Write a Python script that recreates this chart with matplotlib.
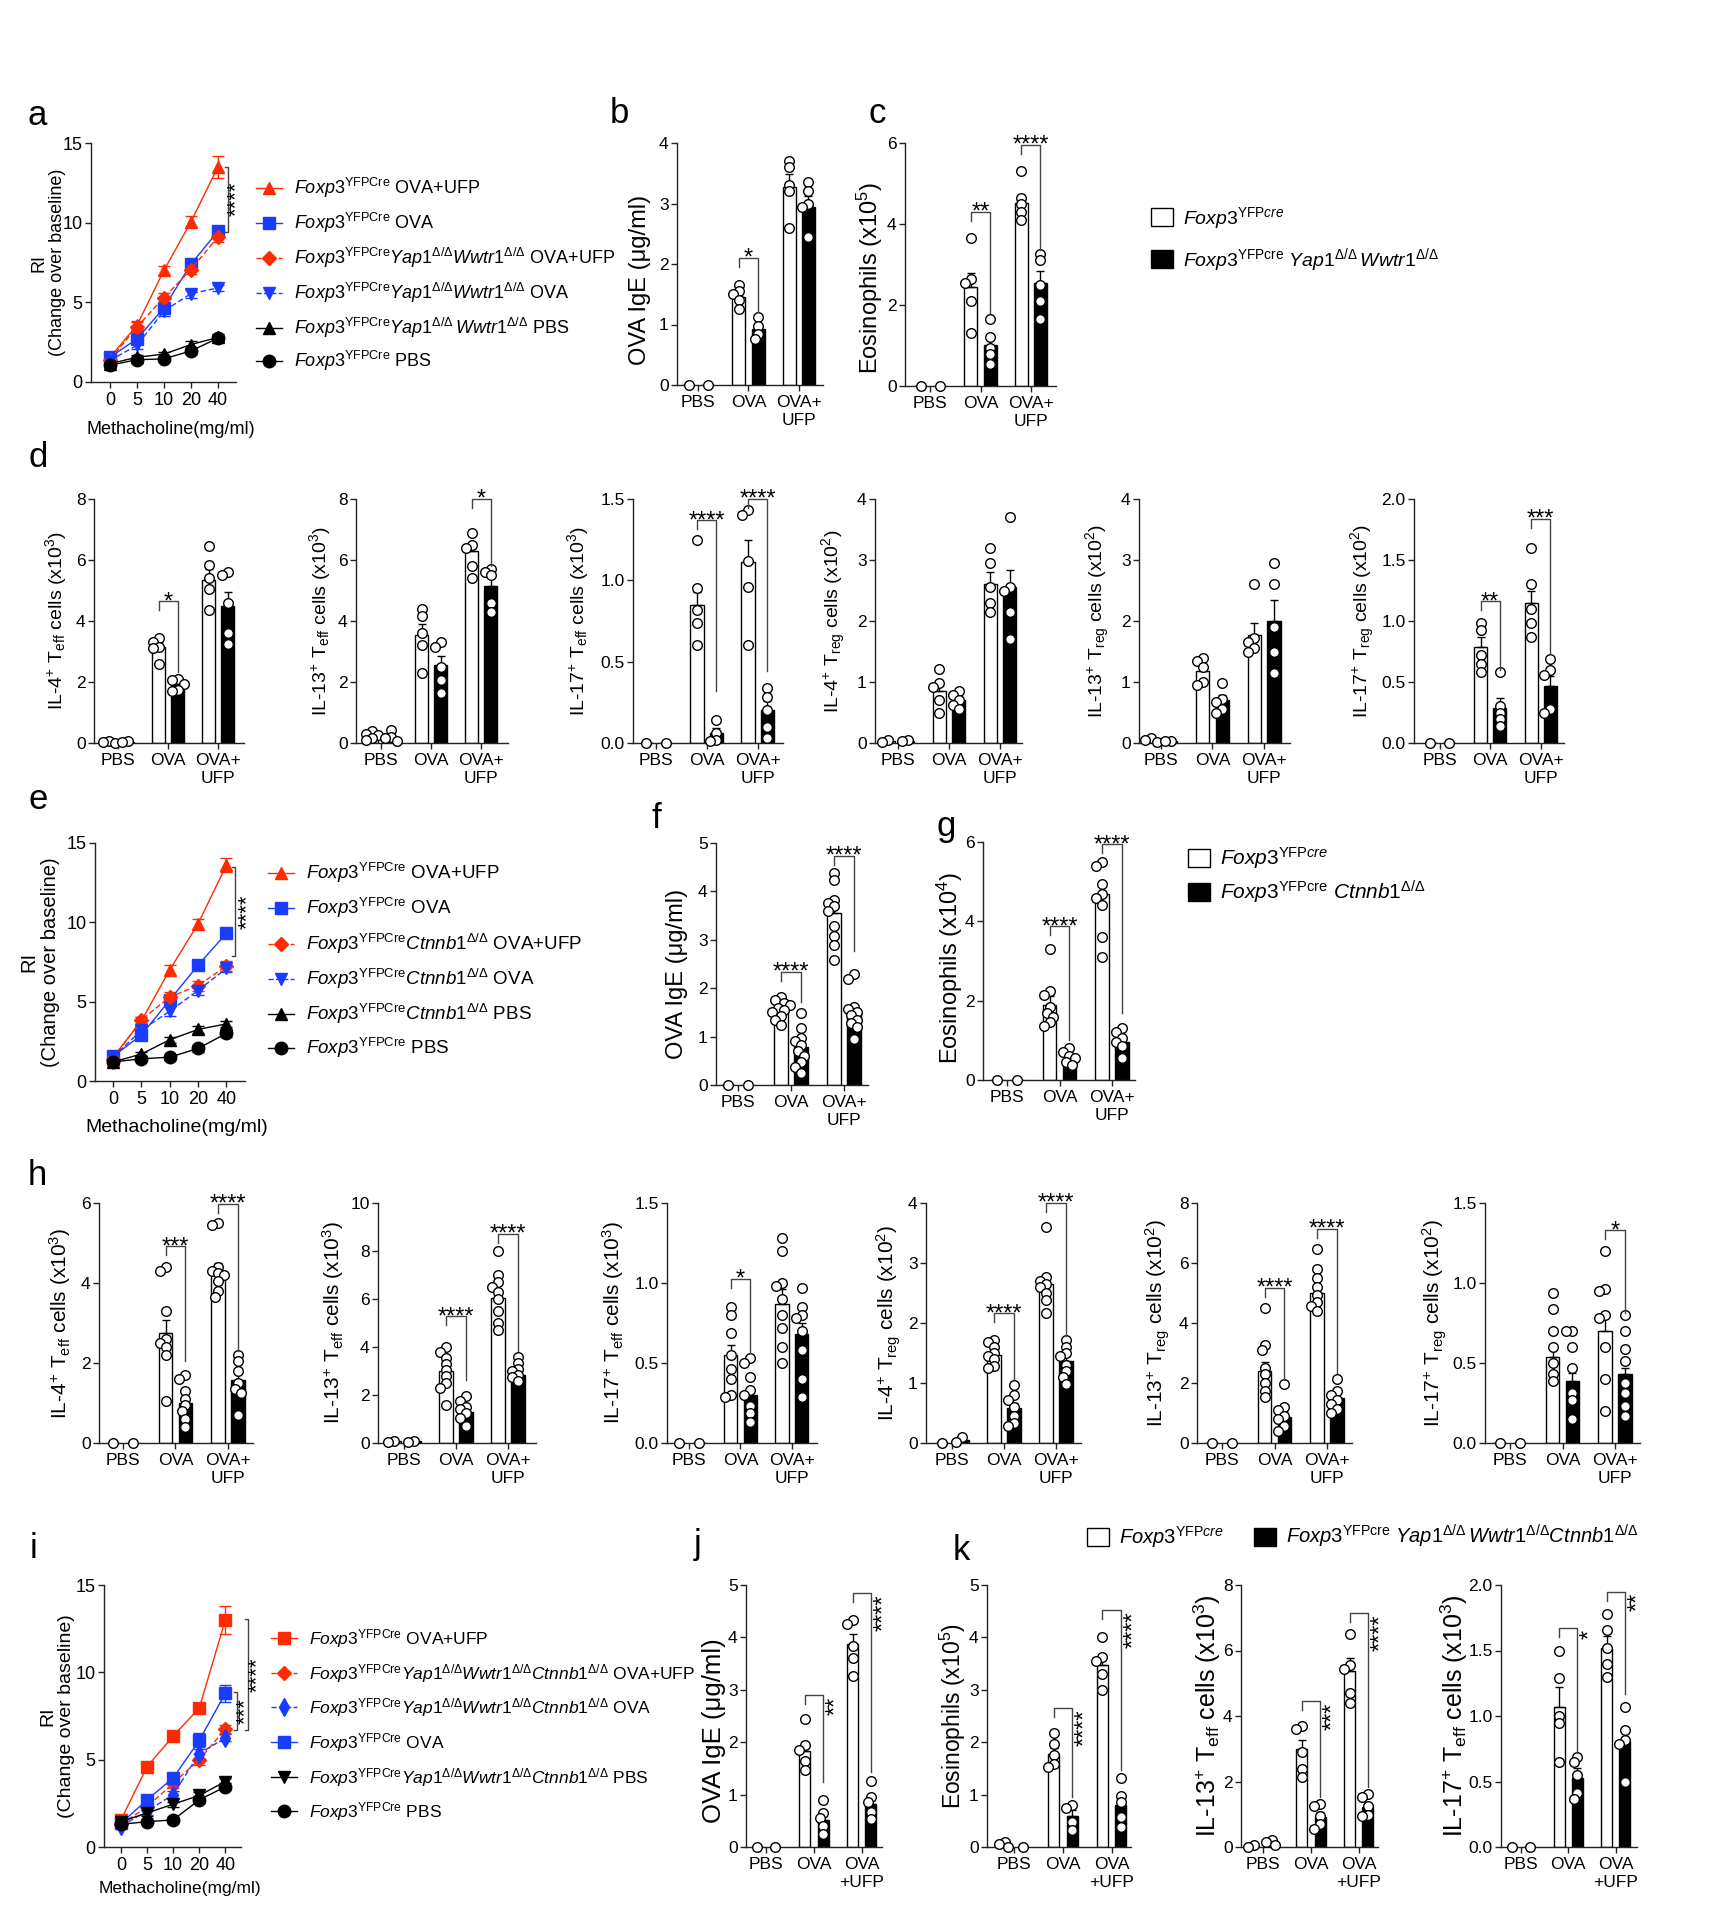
import numpy as np
import matplotlib
matplotlib.use('Agg')
import matplotlib.pyplot as plt
from matplotlib.lines import Line2D
from matplotlib.patches import Rectangle

# ---------------- data ----------------
doses = ['0', '5', '10', '20', '40']
groups = ['PBS', 'OVA', 'OVA+\nUFP']
groups_k = ['PBS', 'OVA', 'OVA\n+UFP']

# a : airway resistance, Yap1/Wwtr1 deletion
a_wt_ovaufp = [1.55, 3.55, 7.0, 10.05, 13.5]
a_wt_ovaufp_err = [0.2, 0.3, 0.3, 0.35, 0.7]
a_wt_ova = [1.55, 2.7, 4.65, 7.4, 9.45]
a_wt_ova_err = [0.2, 0.3, 0.3, 0.3, 0.3]
a_ko_ovaufp = [1.4, 3.45, 5.3, 7.05, 9.1]
a_ko_ovaufp_err = [0.15, 0.3, 0.3, 0.3, 0.3]
a_ko_ova = [1.35, 2.3, 4.45, 5.55, 5.9]
a_ko_ova_err = [0.15, 0.25, 0.3, 0.25, 0.2]
a_ko_pbs = [1.15, 1.55, 1.75, 2.35, 2.8]
a_ko_pbs_err = [0.1, 0.15, 0.15, 0.2, 0.2]
a_wt_pbs = [1.05, 1.4, 1.45, 1.95, 2.75]
a_wt_pbs_err = [0.1, 0.15, 0.15, 0.2, 0.2]

# b : OVA IgE
b_wt_mean = [0.0, 1.45, 3.28]
b_wt_sem = [0.0, 0.08, 0.2]
b_wt_pts = [[0.0], [1.65, 1.55, 1.5, 1.4, 1.25], [3.7, 3.6, 3.3, 3.2, 2.6]]
b_ko_mean = [0.0, 0.92, 2.95]
b_ko_sem = [0.0, 0.08, 0.17]
b_ko_pts = [[0.0], [1.12, 0.98, 0.85, 0.76], [3.35, 3.2, 3.0, 2.95, 2.45]]

# c : eosinophils
c_wt_mean = [0.0, 2.45, 4.52]
c_wt_sem = [0.0, 0.35, 0.2]
c_wt_pts = [[0.0], [3.65, 2.65, 2.55, 2.1, 1.3], [5.3, 4.65, 4.5, 4.3, 4.1]]
c_ko_mean = [0.0, 1.02, 2.55]
c_ko_sem = [0.0, 0.2, 0.3]
c_ko_pts = [[0.0], [1.65, 1.2, 0.95, 0.8, 0.55], [3.25, 3.1, 2.5, 2.1, 1.65]]

# d : cytokine+ T cells
d1_wt_mean = [0.03, 3.15, 5.35]
d1_wt_sem = [0.02, 0.15, 0.35]
d1_wt_pts = [[0.07, 0.03, 0.0], [3.45, 3.3, 3.15, 3.1, 2.6], [6.45, 5.85, 5.4, 5.05, 4.35]]
d1_ko_mean = [0.03, 1.9, 4.5]
d1_ko_sem = [0.02, 0.1, 0.45]
d1_ko_pts = [[0.05, 0.02], [2.1, 2.05, 1.95, 1.75, 1.7], [5.6, 5.5, 4.6, 3.6, 3.25]]

d2_wt_mean = [0.25, 3.55, 6.3]
d2_wt_sem = [0.06, 0.35, 0.25]
d2_wt_pts = [[0.4, 0.3, 0.25, 0.15, 0.1], [4.4, 4.15, 3.6, 3.2, 2.3], [6.9, 6.5, 6.4, 5.8, 5.4]]
d2_ko_mean = [0.2, 2.55, 5.15]
d2_ko_sem = [0.08, 0.3, 0.3]
d2_ko_pts = [[0.42, 0.2, 0.15, 0.05], [3.3, 3.15, 2.5, 2.05, 1.65], [5.7, 5.6, 5.5, 4.6, 4.3]]

d3_wt_mean = [0.0, 0.85, 1.11]
d3_wt_sem = [0.0, 0.08, 0.14]
d3_wt_pts = [[0.0], [1.25, 0.95, 0.82, 0.74, 0.6], [1.43, 1.4, 1.12, 0.96, 0.6]]
d3_ko_mean = [0.0, 0.06, 0.2]
d3_ko_sem = [0.0, 0.035, 0.06]
d3_ko_pts = [[0.0], [0.14, 0.06, 0.02, 0.01], [0.34, 0.28, 0.2, 0.1, 0.03]]

d4_wt_mean = [0.03, 0.85, 2.6]
d4_wt_sem = [0.01, 0.12, 0.2]
d4_wt_pts = [[0.05, 0.02], [1.22, 0.98, 0.92, 0.7, 0.49], [3.2, 2.95, 2.55, 2.3, 2.15]]
d4_ko_mean = [0.03, 0.7, 2.55]
d4_ko_sem = [0.01, 0.06, 0.28]
d4_ko_pts = [[0.05, 0.03], [0.86, 0.78, 0.7, 0.62, 0.55], [3.7, 2.55, 2.5, 2.15, 1.7]]

d5_wt_mean = [0.04, 1.18, 1.77]
d5_wt_sem = [0.02, 0.09, 0.2]
d5_wt_pts = [[0.08, 0.05, 0.02], [1.4, 1.35, 1.25, 1.0, 0.95], [2.6, 1.72, 1.65, 1.55, 1.5]]
d5_ko_mean = [0.03, 0.7, 2.0]
d5_ko_sem = [0.01, 0.09, 0.35]
d5_ko_pts = [[0.04, 0.03], [0.98, 0.72, 0.67, 0.55, 0.5], [2.95, 2.6, 1.9, 1.5, 1.15]]

d6_wt_mean = [0.0, 0.79, 1.15]
d6_wt_sem = [0.0, 0.08, 0.1]
d6_wt_pts = [[0.0], [0.98, 0.93, 0.72, 0.65, 0.58], [1.6, 1.3, 1.1, 0.98, 0.87]]
d6_ko_mean = [0.0, 0.29, 0.47]
d6_ko_sem = [0.0, 0.08, 0.08]
d6_ko_pts = [[0.0], [0.58, 0.3, 0.25, 0.2, 0.14], [0.69, 0.6, 0.56, 0.28, 0.25]]

# e : airway resistance, Ctnnb1 deletion
e_wt_ovaufp = [1.5, 3.8, 7.0, 9.9, 13.6]
e_wt_ovaufp_err = [0.2, 0.25, 0.3, 0.3, 0.45]
e_wt_ova = [1.55, 2.9, 5.1, 7.3, 9.3]
e_wt_ova_err = [0.2, 0.3, 0.3, 0.3, 0.3]
e_ko_ovaufp = [1.4, 3.85, 5.3, 6.0, 7.25]
e_ko_ovaufp_err = [0.15, 0.2, 0.3, 0.3, 0.3]
e_ko_ova = [1.5, 3.2, 4.4, 5.7, 7.1]
e_ko_ova_err = [0.15, 0.25, 0.3, 0.25, 0.2]
e_ko_pbs = [1.2, 1.7, 2.6, 3.25, 3.6]
e_ko_pbs_err = [0.1, 0.15, 0.2, 0.2, 0.2]
e_wt_pbs = [1.2, 1.4, 1.5, 2.05, 3.0]
e_wt_pbs_err = [0.1, 0.15, 0.15, 0.2, 0.2]

# f : OVA IgE
f_wt_mean = [0.0, 1.55, 3.55]
f_wt_sem = [0.0, 0.06, 0.18]
f_wt_pts = [[0.0], [1.82, 1.75, 1.7, 1.65, 1.6, 1.55, 1.5, 1.42, 1.35, 1.25],
            [4.38, 4.24, 3.83, 3.75, 3.7, 3.6, 3.28, 3.07, 2.9, 2.59]]
f_ko_mean = [0.0, 0.78, 1.52]
f_ko_sem = [0.0, 0.12, 0.13]
f_ko_pts = [[0.0], [1.48, 1.17, 0.97, 0.9, 0.82, 0.7, 0.6, 0.48, 0.38, 0.25],
            [2.3, 2.2, 1.62, 1.58, 1.5, 1.45, 1.35, 1.29, 1.2, 0.95]]

# g : eosinophils
g_wt_mean = [0.0, 1.9, 4.7]
g_wt_sem = [0.0, 0.22, 0.28]
g_wt_pts = [[0.0], [3.3, 2.25, 2.15, 1.85, 1.7, 1.6, 1.45, 1.35], [5.5, 5.4, 4.95, 4.7, 4.6, 4.4, 3.6, 3.1]]
g_ko_mean = [0.0, 0.5, 0.95]
g_ko_sem = [0.0, 0.06, 0.08]
g_ko_pts = [[0.0], [0.8, 0.7, 0.6, 0.55, 0.45, 0.38], [1.3, 1.2, 1.05, 0.95, 0.85, 0.55]]

# h : cytokine+ T cells
h1_wt_mean = [0.0, 2.75, 4.3]
h1_wt_sem = [0.0, 0.32, 0.2]
h1_wt_pts = [[0.0], [4.4, 4.3, 3.3, 2.6, 2.5, 2.4, 2.2, 1.05], [5.5, 5.45, 4.4, 4.3, 4.25, 4.2, 4.05, 3.8, 3.65]]
h1_ko_mean = [0.0, 1.0, 1.58]
h1_ko_sem = [0.0, 0.17, 0.17]
h1_ko_pts = [[0.0], [1.7, 1.6, 1.3, 1.1, 0.95, 0.8, 0.6, 0.4], [2.2, 2.05, 1.8, 1.5, 1.35, 1.25, 0.7]]

h2_wt_mean = [0.08, 3.0, 6.05]
h2_wt_sem = [0.03, 0.28, 0.35]
h2_wt_pts = [[0.1, 0.05], [4.0, 3.8, 3.55, 3.3, 3.05, 2.8, 2.5, 2.3, 1.6], [8.0, 7.0, 6.7, 6.5, 6.3, 6.0, 5.5, 5.0, 4.7]]
h2_ko_mean = [0.08, 1.3, 2.85]
h2_ko_sem = [0.03, 0.14, 0.12]
h2_ko_pts = [[0.1, 0.05], [1.95, 1.75, 1.5, 1.4, 1.25, 1.05, 0.7], [3.6, 3.35, 3.1, 3.0, 2.85, 2.75, 2.6]]

h3_wt_mean = [0.0, 0.55, 0.87]
h3_wt_sem = [0.0, 0.06, 0.09]
h3_wt_pts = [[0.0], [0.85, 0.8, 0.69, 0.55, 0.46, 0.4, 0.3, 0.29], [1.28, 1.2, 1.0, 0.98, 0.9, 0.8, 0.72, 0.6, 0.5]]
h3_ko_mean = [0.0, 0.3, 0.68]
h3_ko_sem = [0.0, 0.045, 0.07]
h3_ko_pts = [[0.0], [0.53, 0.5, 0.41, 0.33, 0.3, 0.23, 0.19, 0.13], [0.97, 0.85, 0.8, 0.78, 0.7, 0.58, 0.4, 0.29]]

h4_wt_mean = [0.0, 1.46, 2.65]
h4_wt_sem = [0.0, 0.06, 0.15]
h4_wt_pts = [[0.0], [1.72, 1.68, 1.6, 1.5, 1.45, 1.4, 1.29, 1.25], [3.6, 2.77, 2.7, 2.65, 2.6, 2.5, 2.39, 2.16]]
h4_ko_mean = [0.05, 0.58, 1.36]
h4_ko_sem = [0.02, 0.08, 0.09]
h4_ko_pts = [[0.1, 0.02], [0.96, 0.8, 0.72, 0.6, 0.45, 0.33, 0.28], [1.72, 1.6, 1.5, 1.45, 1.3, 1.2, 1.1, 0.99]]

h5_wt_mean = [0.0, 2.4, 5.0]
h5_wt_sem = [0.0, 0.3, 0.25]
h5_wt_pts = [[0.0], [4.5, 3.28, 3.1, 2.5, 2.3, 2.0, 1.75, 1.53], [6.47, 5.8, 5.5, 5.2, 4.95, 4.7, 4.56, 4.39]]
h5_ko_mean = [0.0, 0.86, 1.5]
h5_ko_sem = [0.0, 0.18, 0.13]
h5_ko_pts = [[0.0], [1.97, 1.2, 1.1, 0.9, 0.8, 0.56, 0.39], [2.15, 1.75, 1.61, 1.45, 1.3, 1.15, 1.0]]

h6_wt_mean = [0.0, 0.54, 0.7]
h6_wt_sem = [0.0, 0.07, 0.08]
h6_wt_pts = [[0.0], [0.94, 0.84, 0.7, 0.6, 0.5, 0.43, 0.385], [1.2, 0.96, 0.95, 0.8, 0.78, 0.6, 0.4, 0.2]]
h6_ko_mean = [0.0, 0.385, 0.43]
h6_ko_sem = [0.0, 0.05, 0.04]
h6_ko_pts = [[0.0], [0.7, 0.7, 0.6, 0.47, 0.31, 0.27, 0.15], [0.8, 0.7, 0.59, 0.51, 0.375, 0.31, 0.23, 0.17]]

# i : airway resistance, triple deletion
i_wt_ovaufp = [1.55, 4.6, 6.35, 7.95, 13.0]
i_wt_ovaufp_err = [0.2, 0.25, 0.25, 0.3, 0.8]
i_tko_ovaufp = [1.3, 2.3, 3.65, 5.0, 6.75]
i_tko_ovaufp_err = [0.15, 0.2, 0.25, 0.3, 0.25]
i_tko_ova = [1.2, 2.05, 3.0, 5.35, 6.25]
i_tko_ova_err = [0.15, 0.2, 0.2, 0.25, 0.2]
i_wt_ova = [1.35, 2.7, 3.95, 6.1, 8.8]
i_wt_ova_err = [0.15, 0.2, 0.25, 0.4, 0.5]
i_tko_pbs = [1.45, 1.95, 2.45, 2.95, 3.75]
i_tko_pbs_err = [0.1, 0.15, 0.15, 0.2, 0.2]
i_wt_pbs = [1.3, 1.45, 1.55, 2.7, 3.45]
i_wt_pbs_err = [0.1, 0.1, 0.15, 0.2, 0.2]

# j : OVA IgE
j_wt_mean = [0.0, 1.83, 3.88]
j_wt_sem = [0.0, 0.17, 0.18]
j_wt_pts = [[0.0], [2.45, 1.94, 1.85, 1.64, 1.46], [4.34, 4.25, 3.83, 3.6, 3.26]]
j_ko_mean = [0.0, 0.52, 0.83]
j_ko_sem = [0.0, 0.11, 0.12]
j_ko_pts = [[0.0], [0.89, 0.65, 0.55, 0.41, 0.25], [1.26, 0.96, 0.85, 0.67, 0.54]]

# k : eosinophils and Teff cells
k1_wt_mean = [0.05, 1.77, 3.48]
k1_wt_sem = [0.02, 0.11, 0.17]
k1_wt_pts = [[0.1, 0.05, 0.0], [2.17, 1.97, 1.75, 1.59, 1.53], [4.0, 3.62, 3.55, 3.31, 3.0]]
k1_ko_mean = [0.0, 0.6, 0.8]
k1_ko_sem = [0.0, 0.1, 0.15]
k1_ko_pts = [[0.0], [0.8, 0.75, 0.48, 0.32], [1.32, 0.97, 0.85, 0.57, 0.39]]

k2_wt_mean = [0.03, 3.0, 5.38]
k2_wt_sem = [0.02, 0.28, 0.38]
k2_wt_pts = [[0.05, 0.0], [3.7, 3.6, 2.9, 2.39, 2.15], [6.5, 5.56, 5.43, 4.69, 4.39]]
k2_ko_mean = [0.12, 0.93, 1.22]
k2_ko_sem = [0.04, 0.15, 0.13]
k2_ko_pts = [[0.22, 0.15, 0.05], [1.3, 1.25, 0.96, 0.71, 0.56], [1.62, 1.52, 1.25, 0.98, 0.95]]

k3_wt_mean = [0.0, 1.07, 1.52]
k3_wt_sem = [0.0, 0.15, 0.09]
k3_wt_pts = [[0.0], [1.5, 1.29, 1.0, 0.95, 0.65], [1.78, 1.66, 1.52, 1.4, 1.3]]
k3_ko_mean = [0.0, 0.53, 0.81]
k3_ko_sem = [0.0, 0.07, 0.09]
k3_ko_pts = [[0.0], [0.69, 0.65, 0.55, 0.41, 0.37], [1.07, 0.89, 0.82, 0.79, 0.5]]

# ---------------- style ----------------
plt.rcParams['font.family'] = ['Liberation Sans', 'DejaVu Sans']
plt.rcParams['mathtext.fontset'] = 'custom'
plt.rcParams['mathtext.rm'] = 'Liberation Sans'
plt.rcParams['mathtext.it'] = 'Liberation Sans:italic'
plt.rcParams['mathtext.bf'] = 'Liberation Sans:bold'
plt.rcParams['mathtext.sf'] = 'Liberation Sans'

RED = '#ff2a00'
BLUE = '#1a3cff'
AXC = '#222222'

W, H = 1735, 1920
fig = plt.figure(figsize=(W / 100, H / 100), dpi=100)
fig.patch.set_facecolor('white')


def fx(x):
    return x / W


def fy(y):
    return 1 - y / H


def px_axes(left, top, right, bottom):
    return fig.add_axes([left / W, 1 - bottom / H, (right - left) / W, (bottom - top) / H])


def style_axes(ax, yticks, fs):
    for s in ['top', 'right']:
        ax.spines[s].set_visible(False)
    for s in ['left', 'bottom']:
        ax.spines[s].set_linewidth(1.0)
        ax.spines[s].set_color(AXC)
    ax.set_ylim(0, yticks[-1])
    ax.set_yticks(yticks)
    if all(float(t).is_integer() for t in yticks):
        ax.set_yticklabels(['%d' % t for t in yticks])
    else:
        ax.set_yticklabels(['%.1f' % t for t in yticks])
    ax.tick_params(direction='out', length=4, width=1, labelsize=fs, color=AXC, pad=2)
    ax.patch.set_alpha(0)


def swarm(vals, xppu, yppu, d=10.0):
    # simple beeswarm: nudge overlapping points sideways
    placed, offs = [], []
    for v in vals:
        o = 0.0
        for k in [0, -1, 1, -2, 2, -3, 3, -4, 4]:
            o = k * 0.3 * d / xppu
            if all(((o - po) * xppu) ** 2 + ((v - pv) * yppu) ** 2 >= (0.6 * d) ** 2
                   for po, pv in placed):
                break
        placed.append((o, v))
        offs.append(o)
    return np.array(offs)


def ylabel(ax, x, text, fs, yc=None):
    pos = ax.get_position()
    if yc is None:
        yy = pos.y0 + pos.height / 2
    else:
        yy = fy(yc)
    fig.text(fx(x), yy, text, rotation=90, ha='center', va='center', fontsize=fs,
             multialignment='center', linespacing=1.15)


def bar_panel(box, xlim, yticks, wt_mean, wt_sem, wt_pts, ko_mean, ko_sem, ko_pts,
              xlabels, ylab, ylab_x, ylab_fs, sigs, rotated=False, ylab_y=None, bw=0.26):
    ax = px_axes(*box)
    style_axes(ax, yticks, 12.5)
    ax.set_xlim(*xlim)
    ymax = yticks[-1]
    x = np.arange(3)
    off = 0.19
    ax.bar(x - off, wt_mean, bw, color='white', edgecolor='black', linewidth=1, zorder=1)
    ax.bar(x + off, ko_mean, bw, color='black', edgecolor='black', linewidth=1, zorder=1)
    ax.errorbar(x - off, wt_mean, yerr=[np.zeros(3), wt_sem], fmt='none', ecolor='black',
                elinewidth=1, capsize=3, zorder=2)
    ax.errorbar(x + off, ko_mean, yerr=[np.zeros(3), ko_sem], fmt='none', ecolor='black',
                elinewidth=1, capsize=3, zorder=2)
    pos = ax.get_position()
    xppu = pos.width * W / (xlim[1] - xlim[0])
    yppu = pos.height * H / ymax
    for xs, pts_all in [(x - off, wt_pts), (x + off, ko_pts)]:
        for xi, pts in zip(xs, pts_all):
            o = swarm(pts, xppu, yppu)
            ax.scatter(xi + o, pts, s=48, facecolor='white', edgecolor='black', linewidth=1,
                       zorder=3, clip_on=False)
    ax.set_xticks(x)
    ax.set_xticklabels(xlabels, linespacing=1.3)
    ax.tick_params(axis='x', labelsize=12.5, pad=3)
    leg = ymax * 9 / (pos.height * H)
    for g, ytop, yright, txt in sigs:
        x1, x2 = g - off, g + off
        ax.plot([x1, x1, x2, x2], [ytop - leg, ytop, ytop, yright], color='#444444', lw=1,
                clip_on=False, zorder=4)
        if rotated:
            ax.annotate(txt, xy=(x2, ytop), xytext=(1.5, -1), textcoords='offset points',
                        rotation=90, ha='left', va='top', fontsize=17, annotation_clip=False)
        else:
            ax.annotate(txt, xy=(g, ytop), xytext=(0, -5), textcoords='offset points',
                        ha='center', va='baseline', fontsize=17, annotation_clip=False)
    ylabel(ax, ylab_x, ylab, ylab_fs, ylab_y)
    return ax


def line_panel(box, xlim, series, styles, ylab_x, ylab_fs, xlab_y, xlab_fs,
               leg_x, leg_rows, leg_fs, brackets):
    ax = px_axes(*box)
    style_axes(ax, [0, 5, 10, 15], 13)
    ax.set_xlim(*xlim)
    x = np.arange(5)
    ax.set_xticks(x)
    ax.set_xticklabels(doses)
    ax.tick_params(axis='x', labelsize=13, pad=3)
    for (vals, errs, label), (color, marker, ls, ms), ly in zip(series, styles, leg_rows):
        ax.errorbar(x, vals, yerr=errs, color=color, marker=marker, ms=ms, ls=ls, lw=1,
                    mec=color, capsize=4, elinewidth=1, zorder=3, clip_on=False,
                    dashes=(4, 2) if ls == '--' else (None, None))
        fig.add_artist(Line2D([fx(leg_x - 13), fx(leg_x + 13)], [fy(ly), fy(ly)], color=color,
                              lw=1, ls=ls))
        fig.add_artist(Line2D([fx(leg_x)], [fy(ly)], marker=marker, ms=ms, color=color,
                              mec=color, ls='none'))
        fig.text(fx(leg_x + 25), fy(ly + 6), label, fontsize=leg_fs, ha='left', va='baseline')
    for bx, y1, y2, txt, tx in brackets:
        t = 0.12
        ax.plot([bx - t, bx, bx, bx - t], [y1, y1, y2, y2], color='#444444', lw=1, clip_on=False)
        ax.text(tx, (y1 + y2) / 2, txt, rotation=90, ha='center', va='center', fontsize=16,
                clip_on=False)
    ylabel(ax, ylab_x, 'RI\n(Change over baseline)', ylab_fs)
    pos = ax.get_position()
    fig.text(pos.x0 + pos.width / 2 + 0.004, fy(xlab_y), 'Methacholine(mg/ml)', ha='center',
             va='center', fontsize=xlab_fs)
    return ax


def box_legend(x0, y, fc, txt, fs):
    fig.add_artist(Rectangle((fx(x0), fy(y + 9)), 22 / W, 18 / H, transform=fig.transFigure,
                             facecolor=fc, edgecolor='black', lw=1))
    fig.text(fx(x0 + 32), fy(y + 7), txt, fontsize=fs, ha='left', va='baseline')


def panel_letter(x, y, s):
    fig.text(fx(x), fy(y), s, fontsize=25, ha='left', va='baseline')


FOX = r'$\mathit{Foxp3}^{\mathrm{YFPCre}}$'
FOXc = r'$\mathit{Foxp3}^{\mathrm{YFP}\mathit{cre}}$'
FOXc2 = r'$\mathit{Foxp3}^{\mathrm{YFPcre}}$'
YW = r'$\mathit{Foxp3}^{\mathrm{YFPCre}}\mathit{Yap1}^{\Delta/\Delta}\mathit{Wwtr1}^{\Delta/\Delta}$'
YWs = r'$\mathit{Foxp3}^{\mathrm{YFPCre}}\mathit{Yap1}^{\Delta/\Delta}\,\mathit{Wwtr1}^{\Delta/\Delta}$'
CT = r'$\mathit{Foxp3}^{\mathrm{YFPCre}}\mathit{Ctnnb1}^{\Delta/\Delta}$'
YWC = r'$\mathit{Foxp3}^{\mathrm{YFPCre}}\mathit{Yap1}^{\Delta/\Delta}\mathit{Wwtr1}^{\Delta/\Delta}\mathit{Ctnnb1}^{\Delta/\Delta}$'

IGE = 'OVA IgE (\u03bcg/ml)'


def cyt(il, cell, exp):
    return 'IL-%s$^{+}$ T$_{\\mathrm{%s}}$ cells (x10$^{%d}$)' % (il, cell, exp)


# ---------------- panel a ----------------
panel_letter(27, 125, 'a')
line_panel((91, 143, 236, 382), (-0.7, 4.67),
           [(a_wt_ovaufp, a_wt_ovaufp_err, FOX + ' OVA+UFP'),
            (a_wt_ova, a_wt_ova_err, FOX + ' OVA'),
            (a_ko_ovaufp, a_ko_ovaufp_err, YW + ' OVA+UFP'),
            (a_ko_ova, a_ko_ova_err, YW + ' OVA'),
            (a_ko_pbs, a_ko_pbs_err, YWs + ' PBS'),
            (a_wt_pbs, a_wt_pbs_err, FOX + ' PBS')],
           [(RED, '^', '-', 9), (BLUE, 's', '-', 8), (RED, 'D', '--', 7),
            (BLUE, 'v', '--', 9), ('black', '^', '-', 9), ('black', 'o', '-', 9)],
           48, 13, 430, 13, 269, [188, 223, 258, 293, 328, 361], 13,
           [(4.37, 13.5, 9.44, '****', 4.68)])

# ---------------- panels b, c ----------------
panel_letter(610, 123, 'b')
bar_panel((677, 143, 823, 385), (-0.42, 2.48), [0, 1, 2, 3, 4],
          b_wt_mean, b_wt_sem, b_wt_pts, b_ko_mean, b_ko_sem, b_ko_pts,
          groups, IGE, 640, 17, [(1, 2.1, 1.2, '*')], ylab_y=280)
panel_letter(868, 123, 'c')
bar_panel((905, 143, 1056, 386), (-0.5, 2.5), [0, 2, 4, 6],
          c_wt_mean, c_wt_sem, c_wt_pts, c_ko_mean, c_ko_sem, c_ko_pts,
          groups, 'Eosinophils (x10$^{5}$)', 870, 17,
          [(1, 4.3, 1.8, '**'), (2, 5.95, 3.35, '****')], ylab_y=278)
box_legend(1151, 217, 'white', FOXc, 14)
box_legend(1151, 259, 'black', FOXc2 + ' ' + r'$\mathit{Yap1}^{\Delta/\Delta}\,\mathit{Wwtr1}^{\Delta/\Delta}$', 14)

# ---------------- row d ----------------
panel_letter(28, 467, 'd')
row_d = [
    ((94, 499, 244, 743), (-0.48, 2.52), [0, 2, 4, 6, 8], d1_wt_mean, d1_wt_sem, d1_wt_pts,
     d1_ko_mean, d1_ko_sem, d1_ko_pts, cyt('4', 'eff', 3), 56, [(1, 4.65, 2.33, '*')]),
    ((356, 499, 508, 743), (-0.5, 2.54), [0, 2, 4, 6, 8], d2_wt_mean, d2_wt_sem, d2_wt_pts,
     d2_ko_mean, d2_ko_sem, d2_ko_pts, cyt('13', 'eff', 3), 320, [(2, 8.0, 5.8, '*')]),
    ((633, 499, 783, 743), (-0.45, 2.5), [0, 0.5, 1.0, 1.5], d3_wt_mean, d3_wt_sem, d3_wt_pts,
     d3_ko_mean, d3_ko_sem, d3_ko_pts, cyt('17', 'eff', 3), 578,
     [(1, 1.37, 0.32, '****'), (2, 1.5, 0.44, '****')]),
    ((875, 499, 1022, 743), (-0.45, 2.43), [0, 1, 2, 3, 4], d4_wt_mean, d4_wt_sem, d4_wt_pts,
     d4_ko_mean, d4_ko_sem, d4_ko_pts, cyt('4', 'reg', 2), 834, []),
    ((1139, 499, 1290, 743), (-0.42, 2.5), [0, 1, 2, 3, 4], d5_wt_mean, d5_wt_sem, d5_wt_pts,
     d5_ko_mean, d5_ko_sem, d5_ko_pts, cyt('13', 'reg', 2), 1098, []),
    ((1414, 499, 1564, 743), (-0.51, 2.46), [0, 0.5, 1.0, 1.5, 2.0], d6_wt_mean, d6_wt_sem, d6_wt_pts,
     d6_ko_mean, d6_ko_sem, d6_ko_pts, cyt('17', 'reg', 2), 1363,
     [(1, 1.16, 0.6, '**'), (2, 1.84, 0.73, '***')]),
]
for box, xl, yt, wm, ws, wp, km, ks, kp, lab, lx, sg in row_d:
    bar_panel(box, xl, yt, wm, ws, wp, km, ks, kp, groups, lab, lx, 14, sg)

# ---------------- panel e ----------------
panel_letter(28, 809, 'e')
line_panel((95, 843, 245, 1081), (-0.64, 4.66),
           [(e_wt_ovaufp, e_wt_ovaufp_err, FOX + ' OVA+UFP'),
            (e_wt_ova, e_wt_ova_err, FOX + ' OVA'),
            (e_ko_ovaufp, e_ko_ovaufp_err, CT + ' OVA+UFP'),
            (e_ko_ova, e_ko_ova_err, CT + ' OVA'),
            (e_ko_pbs, e_ko_pbs_err, CT + ' PBS'),
            (e_wt_pbs, e_wt_pbs_err, FOX + ' PBS')],
           [(RED, '^', '-', 9), (BLUE, 's', '-', 8), (RED, 'D', '--', 7),
            (BLUE, 'v', '--', 9), ('black', '^', '-', 9), ('black', 'o', '-', 9)],
           40, 14.5, 1128, 14, 281, [873, 908, 944, 979, 1014, 1048], 13.5,
           [(4.31, 13.5, 7.85, '****', 4.74)])

# ---------------- panels f, g ----------------
panel_letter(651, 828, 'f')
bar_panel((716, 843, 868, 1085), (-0.42, 2.45), [0, 1, 2, 3, 4, 5],
          f_wt_mean, f_wt_sem, f_wt_pts, f_ko_mean, f_ko_sem, f_ko_pts,
          groups, IGE, 677, 17, [(1, 2.34, 1.72, '****'), (2, 4.74, 2.76, '****')], ylab_y=974)
panel_letter(936, 836, 'g')
bar_panel((983, 842, 1135, 1080), (-0.46, 2.44), [0, 2, 4, 6],
          g_wt_mean, g_wt_sem, g_wt_pts, g_ko_mean, g_ko_sem, g_ko_pts,
          groups, 'Eosinophils (x10$^{4}$)', 950, 17,
          [(1, 3.88, 1.0, '****'), (2, 5.94, 1.68, '****')], ylab_y=968)
box_legend(1188, 858, 'white', FOXc, 15)
box_legend(1188, 892, 'black', FOXc2 + ' ' + r'$\mathit{Ctnnb1}^{\Delta/\Delta}$', 15)

# ---------------- row h ----------------
panel_letter(28, 1185, 'h')
row_h = [
    ((99, 1203, 253, 1443), (-0.46, 2.48), [0, 2, 4, 6], h1_wt_mean, h1_wt_sem, h1_wt_pts,
     h1_ko_mean, h1_ko_sem, h1_ko_pts, cyt('4', 'eff', 3), 60,
     [(1, 4.92, 2.04, '***'), (2, 5.98, 2.29, '****')]),
    ((378, 1203, 536, 1443), (-0.5, 2.54), [0, 2, 4, 6, 8, 10], h2_wt_mean, h2_wt_sem, h2_wt_pts,
     h2_ko_mean, h2_ko_sem, h2_ko_pts, cyt('13', 'eff', 3), 333,
     [(1, 5.28, 2.64, '****'), (2, 8.72, 3.82, '****')]),
    ((667, 1203, 817, 1443), (-0.43, 2.49), [0, 0.5, 1.0, 1.5], h3_wt_mean, h3_wt_sem, h3_wt_pts,
     h3_ko_mean, h3_ko_sem, h3_ko_pts, cyt('17', 'eff', 3), 613, [(1, 1.025, 0.56, '*')]),
    ((926, 1203, 1081, 1443), (-0.5, 2.48), [0, 1, 2, 3, 4], h4_wt_mean, h4_wt_sem, h4_wt_pts,
     h4_ko_mean, h4_ko_sem, h4_ko_pts, cyt('4', 'reg', 2), 889,
     [(1, 2.16, 1.06, '****'), (2, 4.0, 1.78, '****')]),
    ((1197, 1203, 1352, 1443), (-0.48, 2.48), [0, 2, 4, 6, 8], h5_wt_mean, h5_wt_sem, h5_wt_pts,
     h5_ko_mean, h5_ko_sem, h5_ko_pts, cyt('13', 'reg', 2), 1158,
     [(1, 5.17, 2.11, '****'), (2, 7.14, 2.33, '****')]),
    ((1485, 1203, 1640, 1443), (-0.48, 2.48), [0, 0.5, 1.0, 1.5], h6_wt_mean, h6_wt_sem, h6_wt_pts,
     h6_ko_mean, h6_ko_sem, h6_ko_pts, cyt('17', 'reg', 2), 1435, [(2, 1.33, 0.81, '*')]),
]
for box, xl, yt, wm, ws, wp, km, ks, kp, lab, lx, sg in row_h:
    bar_panel(box, xl, yt, wm, ws, wp, km, ks, kp, groups, lab, lx, 15, sg)

# ---------------- panel i ----------------
panel_letter(30, 1558, 'i')
line_panel((104, 1585, 241, 1847), (-0.65, 4.6),
           [(i_wt_ovaufp, i_wt_ovaufp_err, FOX + ' OVA+UFP'),
            (i_tko_ovaufp, i_tko_ovaufp_err, YWC + ' OVA+UFP'),
            (i_tko_ova, i_tko_ova_err, YWC + ' OVA'),
            (i_wt_ova, i_wt_ova_err, FOX + ' OVA'),
            (i_tko_pbs, i_tko_pbs_err, YWC + ' PBS'),
            (i_wt_pbs, i_wt_pbs_err, FOX + ' PBS')],
           [(RED, 's', '-', 9), (RED, 'D', '--', 7), (BLUE, 'd', '--', 9),
            (BLUE, 's', '-', 9), ('black', 'v', '-', 9), ('black', 'o', '-', 9)],
           57, 14, 1888, 12.5, 284, [1638, 1673, 1707, 1742, 1777, 1811], 12.5,
           [(4.88, 13.04, 6.67, '****', 5.23), (4.46, 8.9, 6.67, '***', 4.77)])

# ---------------- panels j, k ----------------
panel_letter(694, 1554, 'j')
bar_panel((746, 1585, 882, 1847), (-0.42, 2.42), [0, 1, 2, 3, 4, 5],
          j_wt_mean, j_wt_sem, j_wt_pts, j_ko_mean, j_ko_sem, j_ko_pts,
          groups_k, IGE, 714, 18.5, [(1, 2.9, 1.24, '**'), (2, 4.85, 1.43, '****')],
          rotated=True, ylab_y=1731, bw=0.23)
panel_letter(953, 1560, 'k')
bar_panel((987, 1585, 1131, 1847), (-0.56, 2.4), [0, 1, 2, 3, 4, 5],
          k1_wt_mean, k1_wt_sem, k1_wt_pts, k1_ko_mean, k1_ko_sem, k1_ko_pts,
          groups_k, 'Eosinophils (x10$^{5}$)', 953, 16.5,
          [(1, 2.66, 0.96, '****'), (2, 4.53, 1.46, '****')], rotated=True, bw=0.23)
bar_panel((1241, 1585, 1378, 1847), (-0.46, 2.4), [0, 2, 4, 6, 8],
          k2_wt_mean, k2_wt_sem, k2_wt_pts, k2_ko_mean, k2_ko_sem, k2_ko_pts,
          groups_k, cyt('13', 'eff', 3), 1207, 18,
          [(1, 4.45, 1.52, '***'), (2, 7.13, 1.83, '****')], rotated=True, bw=0.23)
bar_panel((1501, 1585, 1637, 1847), (-0.42, 2.45), [0, 0.5, 1.0, 1.5, 2.0],
          k3_wt_mean, k3_wt_sem, k3_wt_pts, k3_ko_mean, k3_ko_sem, k3_ko_pts,
          groups_k, cyt('17', 'eff', 3), 1454, 18,
          [(1, 1.67, 0.72, '*'), (2, 1.95, 1.17, '**')], rotated=True, bw=0.23)
box_legend(1087, 1537, 'white', FOXc, 14.5)
box_legend(1254, 1537, 'black', FOXc2 + ' ' +
           r'$\mathit{Yap1}^{\Delta/\Delta}\,\mathit{Wwtr1}^{\Delta/\Delta}\mathit{Ctnnb1}^{\Delta/\Delta}$', 14.5)

fig.savefig('out.png', dpi=100, facecolor='white')
